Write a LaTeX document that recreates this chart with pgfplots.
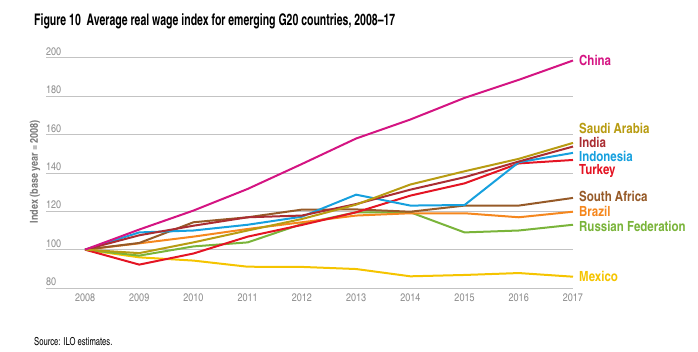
\documentclass[border=0pt]{standalone}
\usepackage{pgfplots}
\pgfplotsset{compat=1.18}
\usepackage{fontspec}
\setmainfont{TeX Gyre Heros Cn}
\newfontfamily\titlefont[FakeStretch=0.8,Ligatures=TeX]{TeX Gyre Heros Cn}
\newfontfamily\srcfont[FakeStretch=0.85,Ligatures=TeX]{TeX Gyre Heros Cn}
\definecolor{cChina}{RGB}{212,20,130}
\definecolor{cSaudi}{RGB}{184,156,18}
\definecolor{cIndia}{RGB}{170,45,50}
\definecolor{cIndo}{RGB}{22,160,222}
\definecolor{cTurkey}{RGB}{228,20,35}
\definecolor{cSA}{RGB}{150,90,40}
\definecolor{cBrazil}{RGB}{245,135,30}
\definecolor{cRussia}{RGB}{122,180,58}
\definecolor{cMexico}{RGB}{245,196,0}
\definecolor{gridc}{RGB}{195,195,195}
\definecolor{tickc}{RGB}{140,140,140}
\definecolor{ylabc}{RGB}{120,120,120}
\begin{document}
\begin{tikzpicture}
\useasboundingbox (0pt,0pt) rectangle (698pt,351pt);
\node[anchor=base west,inner sep=0pt,font=\titlefont\bfseries\fontsize{16}{16}\selectfont] at (34pt,325pt) {Figure 10\ \ Average real wage index for emerging G20 countries, 2008–17};
\node[anchor=base west,inner sep=0pt,font=\srcfont\fontsize{11}{11}\selectfont] at (34pt,6pt) {Source: ILO estimates.};
\node[rotate=90,inner sep=0pt,text=ylabc,font=\bfseries\fontsize{11}{11}\selectfont] at (35pt,179pt) {Index (base year\,=\,2008)};
\begin{axis}[
  at={(46pt,63pt)}, anchor=south west,
  scale only axis, width=527pt, height=230pt,
  xmin=2007.28, xmax=2017, ymin=80, ymax=200,
  clip=false,
  axis line style={draw=none},
  major tick length=0pt,
  ytick={80,100,...,200},
  xtick={2008,...,2017},
  ymajorgrids,
  grid style={gridc, line width=1pt},
  /pgf/number format/assume math mode=true,
  /pgf/number format/1000 sep={},
  yticklabel style={anchor=south west, inner xsep=0pt, inner ysep=2pt, text=tickc, font=\fontsize{11}{11}\selectfont},
  xticklabel style={text=tickc, font=\fontsize{11}{11}\selectfont, yshift=-2pt},
  every axis plot/.append style={line width=2pt, line join=round},
]
\addplot[cMexico] coordinates {(2008,100)(2009,96)(2010,94.3)(2011,91.1)(2012,91)(2013,89.9)(2014,86.1)(2015,86.8)(2016,87.8)(2017,85.9)};
\addplot[cRussia] coordinates {(2008,100)(2009,96.9)(2010,101.7)(2011,103.8)(2012,113.4)(2013,119.5)(2014,119.5)(2015,109)(2016,110)(2017,113)};
\addplot[cBrazil] coordinates {(2008,100)(2009,103.3)(2010,106.8)(2011,110.8)(2012,114.3)(2013,117.8)(2014,119)(2015,119)(2016,116.9)(2017,119.8)};
\addplot[cSA] coordinates {(2008,100)(2009,103.5)(2010,114.3)(2011,116.9)(2012,120.9)(2013,121)(2014,119.8)(2015,123)(2016,123)(2017,127)};
\addplot[cTurkey] coordinates {(2008,100)(2009,92.2)(2010,98)(2011,106.8)(2012,112.9)(2013,119.5)(2014,128.2)(2015,134.6)(2016,145)(2017,146.8)};
\addplot[cIndo] coordinates {(2008,100)(2009,109)(2010,110)(2011,113)(2012,117.2)(2013,128.7)(2014,123)(2015,123.3)(2016,145.6)(2017,150.5)};
\addplot[cIndia] coordinates {(2008,100)(2009,107.5)(2010,112.5)(2011,116.9)(2012,117.8)(2013,123.8)(2014,131.3)(2015,137.8)(2016,146)(2017,153.8)};
\addplot[cSaudi] coordinates {(2008,100)(2009,98.2)(2010,103.8)(2011,110)(2012,116)(2013,123.5)(2014,134)(2015,140.9)(2016,147.4)(2017,155.7)};
\addplot[cChina] coordinates {(2008,100)(2009,110.5)(2010,120.4)(2011,131.7)(2012,144.7)(2013,158)(2014,167.9)(2015,179.2)(2016,188.6)(2017,198.7)};
\begin{scope}[every node/.style={anchor=west, inner sep=0pt, xshift=6pt, font=\bfseries\fontsize{14}{14}\selectfont}]
\node[text=cChina] at (axis cs:2017,198.7) {China};
\node[text=cSaudi] at (axis cs:2017,163.2) {Saudi Arabia};
\node[text=cIndia] at (axis cs:2017,155.9) {India};
\node[text=cIndo] at (axis cs:2017,148.6) {Indonesia};
\node[text=cTurkey] at (axis cs:2017,141.3) {Turkey};
\node[text=cSA] at (axis cs:2017,127.7) {South Africa};
\node[text=cBrazil] at (axis cs:2017,119.8) {Brazil};
\node[text=cRussia] at (axis cs:2017,112) {Russian Federation};
\node[text=cMexico] at (axis cs:2017,85.9) {Mexico};
\end{scope}
\end{axis}
\end{tikzpicture}
\end{document}
